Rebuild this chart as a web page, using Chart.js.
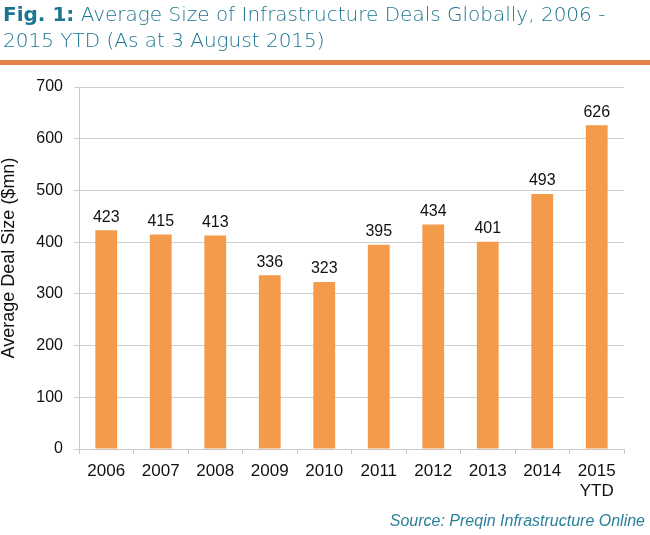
<!DOCTYPE html>
<html>
<head>
<meta charset="utf-8">
<script src="https://cdn.jsdelivr.net/npm/chart.js@4.4.0/dist/chart.umd.min.js"></script>
<style>
  html, body { margin: 0; padding: 0; background: #ffffff; }
  #wrap { position: relative; width: 650px; height: 535px; overflow: hidden; background: #fff; }
  #title { position: absolute; left: 3px; top: 1px; font-family: "DejaVu Sans", sans-serif; font-size: 20px; line-height: 26px; color: #1b7590; white-space: nowrap; font-weight: 200; }
  #title b { font-weight: bold; }
  #rule { position: absolute; left: 0; top: 60px; width: 650px; height: 5px; background: #e8804a; }
  #source { position: absolute; right: 5px; top: 512px; font-family: "Liberation Sans", Arial, sans-serif; font-style: italic; font-size: 16px; color: #2a7f9a; white-space: nowrap; }
  #c { position: absolute; left: 0; top: 0; }
</style>
</head>
<body>
<div id="wrap">
  <canvas id="c" width="650" height="535"></canvas>
  <div id="title"><b>Fig. 1:</b> Average Size of Infrastructure Deals Globally, 2006 -<br>2015 YTD (As at 3 August 2015)</div>
  <div id="rule"></div>
  <div id="source">Source: Preqin Infrastructure Online</div>
</div>
<script>
const categories = [["2006"], ["2007"], ["2008"], ["2009"], ["2010"], ["2011"], ["2012"], ["2013"], ["2014"], ["2015", "YTD"]];
const dealSizes = [423, 415, 413, 336, 323, 395, 434, 401, 493, 626];
const yMin = 0;
const yMax = 700;
const yStep = 100;
const yTitle = "Average Deal Size ($mn)";

const dataLabels = {
  id: 'dataLabels',
  afterDatasetsDraw(chart) {
    const ctx = chart.ctx;
    const meta = chart.getDatasetMeta(0);
    ctx.save();
    ctx.font = '16px "Liberation Sans", Arial, sans-serif';
    ctx.fillStyle = '#111111';
    ctx.textAlign = 'center';
    ctx.textBaseline = 'bottom';
    meta.data.forEach((bar, i) => {
      ctx.fillText(String(dealSizes[i]), bar.x, bar.y - 5);
    });
    ctx.restore();
  }
};

const yAxisTitle = {
  id: 'yAxisTitle',
  afterDraw(chart) {
    const ctx = chart.ctx;
    const area = chart.chartArea;
    ctx.save();
    ctx.translate(9, (area.top + area.bottom) / 2 - 10);
    ctx.rotate(-Math.PI / 2);
    ctx.font = '18px "Liberation Sans", Arial, sans-serif';
    ctx.fillStyle = '#111111';
    ctx.textAlign = 'center';
    ctx.textBaseline = 'middle';
    ctx.fillText(yTitle, 0, 0);
    ctx.restore();
  }
};

new Chart(document.getElementById('c'), {
  type: 'bar',
  data: {
    labels: categories,
    datasets: [{
      data: dealSizes,
      backgroundColor: '#f39a4b',
      borderWidth: 0,
      barPercentage: 0.4,
      categoryPercentage: 1.0
    }]
  },
  options: {
    responsive: false,
    animation: false,
    devicePixelRatio: 1,
    layout: { padding: { top: 87, right: 26, left: 0, bottom: 0 } },
    plugins: { legend: { display: false }, tooltip: { enabled: false } },
    scales: {
      x: {
        afterFit(scale) { scale.height = 86; },
        grid: { drawOnChartArea: false, offset: true, tickLength: 5, color: '#c8c8c8' },
        border: { color: '#c8c8c8' },
        ticks: {
          padding: 7,
          color: '#111111',
          font: { family: '"Liberation Sans", Arial, sans-serif', size: 17 },
          maxRotation: 0, autoSkip: false
        }
      },
      y: {
        min: yMin, max: yMax,
        afterFit(scale) { scale.width = 79; },
        grid: { color: '#cfcfcf', tickLength: 5 },
        border: { color: '#c8c8c8' },
        ticks: {
          stepSize: yStep,
          padding: 11,
          color: '#111111',
          font: { family: '"Liberation Sans", Arial, sans-serif', size: 16 }
        }
      }
    }
  },
  plugins: [dataLabels, yAxisTitle]
});
</script>
</body>
</html>
